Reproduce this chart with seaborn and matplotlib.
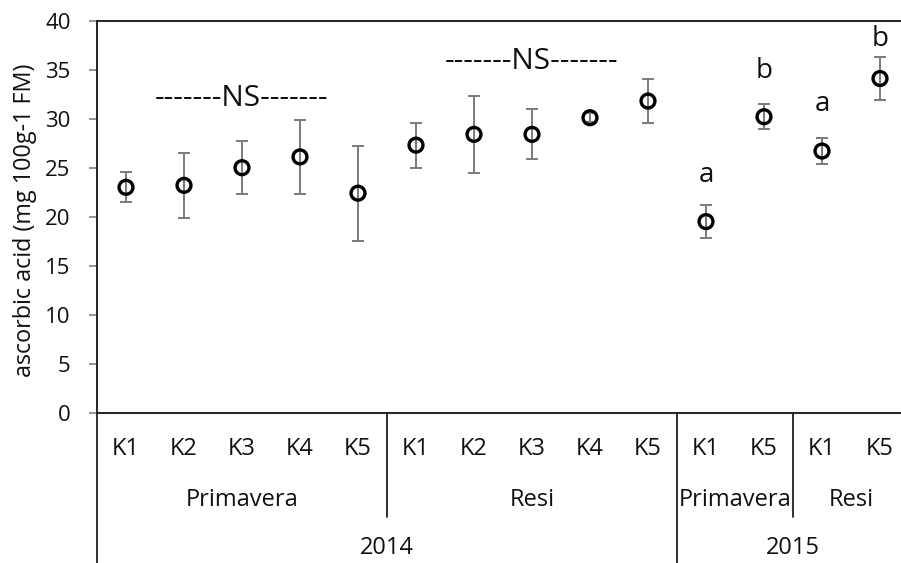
import matplotlib
matplotlib.use("Agg")
import matplotlib.pyplot as plt
import seaborn as sns
import numpy as np
import pandas as pd

# Ascorbic acid content per cultivar / potassium level / year
years = ["2014", "2015"]
cultivars = ["Primavera", "Resi", "Primavera", "Resi"]
treatments = ["K1", "K2", "K3", "K4", "K5",
              "K1", "K2", "K3", "K4", "K5",
              "K1", "K5",
              "K1", "K5"]
means = [23.0, 23.2, 25.0, 26.1, 22.4,
         27.3, 28.4, 28.4, 30.1, 31.8,
         19.5, 30.2,
         26.7, 34.1]
err = [1.55, 3.3, 2.7, 3.8, 4.85,
       2.3, 3.95, 2.55, 0.45, 2.25,
       1.65, 1.3,
       1.3, 2.15]
group_sizes = [5, 5, 2, 2]          # points per cultivar block
year_sizes = [10, 4]                 # points per year block
letters = ["a", "b", "a", "b"]       # significance letters for 2015
letter_y = [24.3, 34.9, 31.5, 38.1]
ns_y = [32.1, 35.8]

df = pd.DataFrame({"pos": np.arange(len(means)), "treatment": treatments,
                   "mean": means, "err": err})

sns.set_theme(style="white")
plt.rcParams["font.family"] = ["Open Sans", "DejaVu Sans"]
plt.rcParams["text.color"] = "#111111"

fig = plt.figure(figsize=(9.01, 5.63), dpi=100)
ax = fig.add_axes([97 / 901, 1 - 412.7 / 563, 812 / 901, 392 / 563])

ax.errorbar(df["pos"], df["mean"], yerr=df["err"], fmt="none",
            ecolor="#7a7a7a", elinewidth=1.4, capsize=4, capthick=1.4, zorder=2)
sns.scatterplot(data=df, x="pos", y="mean", ax=ax, marker="o", s=100,
                facecolor="none", edgecolor="black", linewidth=2.4, zorder=3,
                legend=False)

ax.set_xlim(-0.5, len(means) - 0.5)
ax.set_ylim(0, 40)
ax.set_yticks(np.arange(0, 41, 5))
ax.set_xticks([])
ax.set_xlabel("")
ax.set_ylabel("ascorbic acid (mg 100g-1 FM)", fontsize=16.8, color="#111111")
ax.yaxis.set_label_coords(-0.074, 0.49)
ax.tick_params(axis="y", which="both", left=True, length=6, width=1.2,
               color="#808080", labelsize=16, pad=13, labelcolor="#111111")
for s in ax.spines.values():
    s.set_color("#222222")
    s.set_linewidth(1.4)

# "NS" markers over the 2014 groups
ns_label = "-------NS-------"
ax.text(2, ns_y[0], ns_label, ha="center", va="center", fontsize=21.5)
ax.text(7, ns_y[1], ns_label, ha="center", va="center", fontsize=21.5)

# significance letters for 2015
for p, l, y in zip(range(10, 14), letters, letter_y):
    ax.text(p, y, l, ha="center", va="center", fontsize=20)

# multi-level category axis below the plot
trans = ax.get_xaxis_transform()
y_k, y_cult, y_year = -0.092, -0.222, -0.345
cat_fs = 17
for p, t in enumerate(treatments):
    ax.text(p, y_k, t, transform=trans, ha="center", va="center", fontsize=cat_fs)

start = 0
cult_edges = []
for c, n in zip(cultivars, group_sizes):
    ax.text(start + (n - 1) / 2, y_cult, c, transform=trans, ha="center",
            va="center", fontsize=cat_fs)
    start += n
    cult_edges.append(start - 0.5)

start = 0
year_edges = []
for yv, n in zip(years, year_sizes):
    ax.text(start + (n - 1) / 2, y_year, yv, transform=trans, ha="center",
            va="center", fontsize=cat_fs)
    start += n
    year_edges.append(start - 0.5)

line_kw = dict(transform=trans, color="#222222", lw=1.3, clip_on=False)
ax.plot([-0.5, -0.5], [0, -0.4], **line_kw)
ax.plot([year_edges[0]] * 2, [0, -0.4], **line_kw)
for e in [cult_edges[0], cult_edges[2]]:
    ax.plot([e, e], [0, -0.265], **line_kw)

fig.savefig("out.png", dpi=100)
